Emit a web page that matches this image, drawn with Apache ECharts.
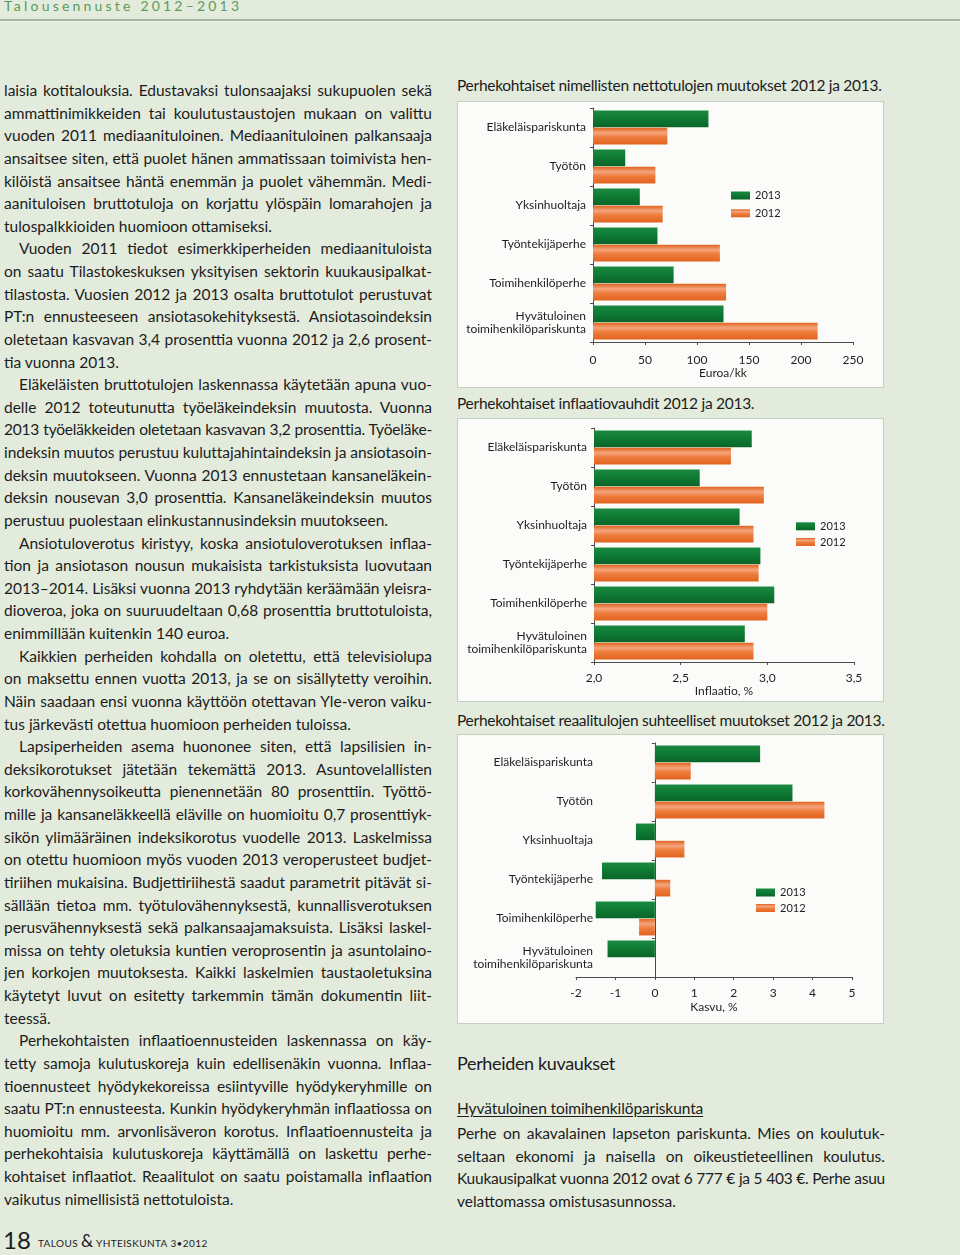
<!DOCTYPE html>
<html><head><meta charset="utf-8">
<script src="https://cdn.jsdelivr.net/npm/echarts@6/dist/echarts.min.js"></script>
<style>
html,body{margin:0;padding:0;}
body{width:960px;height:1255px;background:#e3ebdc;position:relative;overflow:hidden;font-family:Lato,"Open Sans",sans-serif;color:#1c1c1c;}
#header{position:absolute;left:4px;top:-4px;font-size:14px;line-height:20px;letter-spacing:3.2px;color:#5c9a5d;}
#hr{position:absolute;left:0;top:19px;width:960px;height:2px;background:#a6b6a1;}
#hr2{position:absolute;left:0;top:21px;width:960px;height:1px;background:#eef3ea;}
.col{position:absolute;font-size:15.5px;}
.l{height:22.63px;line-height:22.63px;overflow:hidden;text-align:justify;text-align-last:justify;}
.e{text-align-last:left;text-align:left;}
.i{padding-left:15px;}
.ttl{position:absolute;left:457px;font-size:15.5px;line-height:22.63px;white-space:nowrap;letter-spacing:-0.28px;}
.box{position:absolute;left:457px;width:427px;background:#fbfcf9;border:1px solid #c6cec1;box-sizing:border-box;}
#chart{position:absolute;left:0;top:0;width:960px;height:1255px;}
#foot18{position:absolute;left:3px;top:1225px;font-size:24px;line-height:30px;}
#footTxt{position:absolute;left:38px;top:1233px;font-size:10px;line-height:16px;letter-spacing:0.4px;}
#footTxt .amp{font-size:17px;}
</style></head>
<body>
<div id="header">Talousennuste 2012–2013</div>
<div id="hr"></div><div id="hr2"></div>

<div class="col" style="left:4px;top:79px;width:428px;">
<div class="l">laisia kotitalouksia. Edustavaksi tulonsaajaksi sukupuolen sekä</div>
<div class="l">ammattinimikkeiden tai koulutustaustojen mukaan on valittu</div>
<div class="l">vuoden 2011 mediaanituloinen. Mediaanituloinen palkansaaja</div>
<div class="l">ansaitsee siten, että puolet hänen ammatissaan toimivista hen-</div>
<div class="l">kilöistä ansaitsee häntä enemmän ja puolet vähemmän. Medi-</div>
<div class="l">aanituloisen bruttotuloja on korjattu ylöspäin lomarahojen ja</div>
<div class="l e">tulospalkkioiden huomioon ottamiseksi.</div>
<div class="l i">Vuoden 2011 tiedot esimerkkiperheiden mediaanituloista</div>
<div class="l">on saatu Tilastokeskuksen yksityisen sektorin kuukausipalkat-</div>
<div class="l">tilastosta. Vuosien 2012 ja 2013 osalta bruttotulot perustuvat</div>
<div class="l">PT:n ennusteeseen ansiotasokehityksestä. Ansiotasoindeksin</div>
<div class="l">oletetaan kasvavan 3,4 prosenttia vuonna 2012 ja 2,6 prosent-</div>
<div class="l e">tia vuonna 2013.</div>
<div class="l i">Eläkeläisten bruttotulojen laskennassa käytetään apuna vuo-</div>
<div class="l">delle 2012 toteutunutta työeläkeindeksin muutosta. Vuonna</div>
<div class="l">2013 työeläkkeiden oletetaan kasvavan 3,2 prosenttia. Työeläke-</div>
<div class="l">indeksin muutos perustuu kuluttajahintaindeksin ja ansiotasoin-</div>
<div class="l">deksin muutokseen. Vuonna 2013 ennustetaan kansaneläkein-</div>
<div class="l">deksin nousevan 3,0 prosenttia. Kansaneläkeindeksin muutos</div>
<div class="l e">perustuu puolestaan elinkustannusindeksin muutokseen.</div>
<div class="l i">Ansiotuloverotus kiristyy, koska ansiotuloverotuksen inflaa-</div>
<div class="l">tion ja ansiotason nousun mukaisista tarkistuksista luovutaan</div>
<div class="l">2013–2014. Lisäksi vuonna 2013 ryhdytään keräämään yleisra-</div>
<div class="l">dioveroa, joka on suuruudeltaan 0,68 prosenttia bruttotuloista,</div>
<div class="l e">enimmillään kuitenkin 140 euroa.</div>
<div class="l i">Kaikkien perheiden kohdalla on oletettu, että televisiolupa</div>
<div class="l">on maksettu ennen vuotta 2013, ja se on sisällytetty veroihin.</div>
<div class="l">Näin saadaan ensi vuonna käyttöön otettavan Yle-veron vaiku-</div>
<div class="l e">tus järkevästi otettua huomioon perheiden tuloissa.</div>
<div class="l i">Lapsiperheiden asema huononee siten, että lapsilisien in-</div>
<div class="l">deksikorotukset jätetään tekemättä 2013. Asuntovelallisten</div>
<div class="l">korkovähennysoikeutta pienennetään 80 prosenttiin. Työttö-</div>
<div class="l">mille ja kansaneläkkeellä eläville on huomioitu 0,7 prosenttiyk-</div>
<div class="l">sikön ylimääräinen indeksikorotus vuodelle 2013. Laskelmissa</div>
<div class="l">on otettu huomioon myös vuoden 2013 veroperusteet budjet-</div>
<div class="l">tiriihen mukaisina. Budjettiriihestä saadut parametrit pitävät si-</div>
<div class="l">sällään tietoa mm. työtulovähennyksestä, kunnallisverotuksen</div>
<div class="l">perusvähennyksestä sekä palkansaajamaksuista. Lisäksi laskel-</div>
<div class="l">missa on tehty oletuksia kuntien veroprosentin ja asuntolaino-</div>
<div class="l">jen korkojen muutoksesta. Kaikki laskelmien taustaoletuksina</div>
<div class="l">käytetyt luvut on esitetty tarkemmin tämän dokumentin liit-</div>
<div class="l e">teessä.</div>
<div class="l i">Perhekohtaisten inflaatioennusteiden laskennassa on käy-</div>
<div class="l">tetty samoja kulutuskoreja kuin edellisenäkin vuonna. Inflaa-</div>
<div class="l">tioennusteet hyödykekoreissa esiintyville hyödykeryhmille on</div>
<div class="l">saatu PT:n ennusteesta. Kunkin hyödykeryhmän inflaatiossa on</div>
<div class="l">huomioitu mm. arvonlisäveron korotus. Inflaatioennusteita ja</div>
<div class="l">perhekohtaisia kulutuskoreja käyttämällä on laskettu perhe-</div>
<div class="l">kohtaiset inflaatiot. Reaalitulot on saatu poistamalla inflaation</div>
<div class="l e">vaikutus nimellisistä nettotuloista.</div>
</div>

<div class="ttl" style="top:74px;">Perhekohtaiset nimellisten nettotulojen muutokset 2012 ja 2013.</div>
<div class="ttl" style="top:392px;">Perhekohtaiset inflaatiovauhdit 2012 ja 2013.</div>
<div class="ttl" style="top:709px;">Perhekohtaiset reaalitulojen suhteelliset muutokset 2012 ja 2013.</div>

<div class="box" style="top:101px;height:287px;"></div>
<div class="box" style="top:418px;height:284px;"></div>
<div class="box" style="top:734px;height:290px;"></div>

<div class="ttl" style="top:1051px;font-size:18px;line-height:24px;letter-spacing:-0.35px;">Perheiden kuvaukset</div>
<div class="ttl" style="top:1097px;text-decoration:underline;text-underline-offset:2px;letter-spacing:-0.1px;">Hyvätuloinen toimihenkilöpariskunta</div>
<div class="col" style="left:457px;top:1122px;width:428px;">
<div class="l">Perhe on akavalainen lapseton pariskunta. Mies on koulutuk-</div>
<div class="l">seltaan ekonomi ja naisella on oikeustieteellinen koulutus.</div>
<div class="l">Kuukausipalkat vuonna 2012 ovat 6 777 € ja 5 403 €. Perhe asuu</div>
<div class="l e">velattomassa omistusasunnossa.</div>
</div>

<div id="foot18">18</div>
<div id="footTxt">TALOUS <span class="amp">&amp;</span> YHTEISKUNTA 3•2012</div>

<div id="chart"></div>
<script>
// fit justified text lines that would otherwise wrap
document.querySelectorAll('.l').forEach(el => {
  let ls = 0;
  while (el.scrollHeight > el.clientHeight + 1 && ls > -2) {
    ls -= 0.05;
    el.style.letterSpacing = ls.toFixed(2) + 'px';
  }
});

// ---- data ----
const categories = ['Eläkeläispariskunta', 'Työtön', 'Yksinhuoltaja', 'Työntekijäperhe', 'Toimihenkilöperhe', 'Hyvätuloinen\ntoimihenkilöpariskunta'];
const seriesNames = ['2013', '2012'];
const netto2013 = [111, 31, 45, 62, 77.5, 125.5];
const netto2012 = [71.5, 60, 67, 122, 128, 216];
const infl2013 = [2.91, 2.61, 2.84, 2.96, 3.04, 2.87];
const infl2012 = [2.79, 2.98, 2.92, 2.95, 3.00, 2.92];
const real2013 = [2.67, 3.49, -0.48, -1.34, -1.50, -1.20];
const real2012 = [0.91, 4.30, 0.75, 0.39, -0.40, 0];
const axisNames = ['Euroa/kk', 'Inflaatio, %', 'Kasvu, %'];
const axisRanges = [[0, 250, 50], [2, 3.5, 0.5], [-2, 5, 1]];

const FONT = 'Lato';
const TXT = '#1e1e1e';
const AX = '#4a4a4a';
const green = new echarts.graphic.LinearGradient(0, 0, 0, 1, [
  {offset: 0, color: '#1a8a40'}, {offset: 0.45, color: '#0f7b34'}, {offset: 1, color: '#0a652a'}]);
const orange = new echarts.graphic.LinearGradient(0, 0, 0, 1, [
  {offset: 0, color: '#e2641f'}, {offset: 0.3, color: '#f5a47d'}, {offset: 0.55, color: '#ee7d3e'}, {offset: 1, color: '#e2631f'}]);

const chart = echarts.init(document.getElementById('chart'), null, {renderer: 'canvas'});

const grids = [
  {left: 593, top: 108, width: 260, height: 234},
  {left: 594, top: 428, width: 260, height: 234},
  {left: 576, top: 743, width: 276, height: 234}
];
const legendPos = [
  {left: 731, top: 189.5, itemGap: 5.8},
  {left: 796, top: 520.3, itemGap: 3.7},
  {left: 756, top: 886.5, itemGap: 3.5}
];
const nameGaps = [25, 23, 24];
const labelMargins = [12, 10, 10];

function fmt(i) {
  return i === 1 ? (v => v.toFixed(1).replace('.', ',')) : (v => String(v));
}

const xAxis = axisRanges.map((r, i) => ({
  gridIndex: i, type: 'value', min: r[0], max: r[1], interval: r[2],
  name: axisNames[i], nameLocation: 'middle', nameGap: nameGaps[i],
  nameTextStyle: {fontFamily: FONT, fontSize: 12, color: TXT},
  axisLine: {show: true, onZero: false, lineStyle: {color: AX, width: 1}},
  axisTick: {show: true, length: 3, lineStyle: {color: AX}},
  splitLine: {show: false},
  axisLabel: {fontFamily: FONT, fontSize: 12, color: TXT, margin: labelMargins[i], formatter: fmt(i)}
}));

const catAxisBase = (i) => ({
  gridIndex: i, type: 'category', data: categories, inverse: true, position: 'left',
  axisLine: {show: true, onZero: false, lineStyle: {color: AX, width: 1}},
  axisTick: {show: true, length: 3, lineStyle: {color: AX}},
  splitLine: {show: false},
  axisLabel: {fontFamily: FONT, fontSize: 12, lineHeight: 13, color: TXT, margin: 7}
});
const yAxis = [catAxisBase(0), catAxisBase(1), catAxisBase(2), catAxisBase(2)];
yAxis[2].axisLine.onZero = true;
yAxis[2].axisLabel = {show: false};
yAxis[3].axisLine = {show: false, onZero: false};
yAxis[3].axisTick = {show: false};
yAxis[3].axisLabel.margin = -17;

const dataSets = [[netto2013, netto2012], [infl2013, infl2012], [real2013, real2012]];
const series = [];
dataSets.forEach((pair, i) => {
  pair.forEach((d, k) => {
    series.push({
      type: 'bar', name: seriesNames[k], xAxisIndex: i, yAxisIndex: i, data: d,
      barCategoryGap: '13%', barGap: '4%', clip: true, silent: true,
      itemStyle: {color: k === 0 ? green : orange}
    });
  });
});

chart.setOption({
  animation: false,
  grid: grids.map(g => Object.assign({containLabel: false, outerBoundsMode: 'none'}, g)),
  legend: legendPos.map(p => ({
    data: seriesNames, orient: 'vertical', left: p.left, top: p.top, padding: 0,
    itemWidth: 19, itemHeight: 8, itemGap: p.itemGap, icon: 'rect', selectedMode: false,
    textStyle: {fontFamily: FONT, fontSize: 11, color: TXT, lineHeight: 12}
  })),
  xAxis: xAxis,
  yAxis: yAxis,
  series: series
});
</script>
</body></html>
